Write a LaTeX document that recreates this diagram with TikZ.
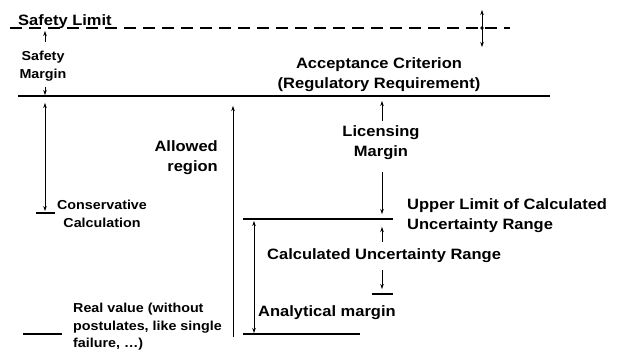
\documentclass[tikz,border=0pt]{standalone}
\usepackage{fontspec}
\setmainfont{Liberation Sans}[FakeStretch=1.1]
\usetikzlibrary{arrows.meta}
\tikzset{
  big/.style={font=\fontsize{15}{20}\selectfont\bfseries, inner sep=0pt, align=center},
  small/.style={font=\fontsize{13}{17.5}\selectfont\bfseries, inner sep=0pt, align=center},
  arr/.style={-{Stealth[length=5pt,width=3.5pt]}, line width=0.6pt},
  darr/.style={{Stealth[length=5pt,width=3.5pt]}-{Stealth[length=5pt,width=3.5pt]}, line width=0.6pt},
  level/.style={line width=1.5pt}
}
\begin{document}
\begin{tikzpicture}[x=1pt,y=-1pt]
  \useasboundingbox (0,0) rectangle (620,352);
  % levels
  \coordinate (slA) at (10,28);   \coordinate (slB) at (510,28);
  \coordinate (acA) at (18,96);   \coordinate (acB) at (550,96);
  \coordinate (ccA) at (36,213);  \coordinate (ccB) at (55,213);
  \coordinate (ulA) at (243,219); \coordinate (ulB) at (393,219);
  \coordinate (lrA) at (372,294); \coordinate (lrB) at (393,294);
  \coordinate (rbA) at (243,334); \coordinate (rbB) at (360,334);
  \coordinate (rvA) at (23,334);  \coordinate (rvB) at (62,334);
  \draw[level, dash pattern=on 12pt off 7pt] (slA) -- (slB);
  \draw[line width=1.8pt] (acA) -- (acB);
  \draw[level] (ccA) -- (ccB);
  \draw[line width=1.2pt] (ulA) -- (ulB);
  \draw[level] (lrA) -- (lrB);
  \draw[level] (rbA) -- (rbB);
  \draw[line width=1.2pt] (rvA) -- (rvB);
  % texts
  \node[big, anchor=base west] (safelim) at (18,26) {Safety Limit};
  \node[small] (safemarg) at (43,66) {Safety\\Margin};
  \node[big] (accept) at (379,75) {Acceptance Criterion\\(Regulatory Requirement)};
  \node[big] (licmarg) at (381,143) {Licensing\\Margin};
  \node[big, align=right, anchor=east] (allowed) at (218,158) {Allowed\\region};
  \node[small] (conscalc) at (102,214) {Conservative\\Calculation};
  \node[big, align=left, anchor=west] (upper) at (407,216) {Upper Limit of Calculated\\Uncertainty Range};
  \node[big, anchor=west] (uncrange) at (267,256) {Calculated Uncertainty Range};
  \node[big, anchor=west] (anamarg) at (258,313) {Analytical margin};
  \node[small, align=left, anchor=west] (realval) at (73,327) {Real value (without\\postulates, like single\\failure, \dots)};
  % arrows
  \draw[arr] (45,42) coordinate (smA) -- (45,31) coordinate (smB);
  \draw[arr] (45,87) coordinate (smC) -- (45,95) coordinate (smD);
  \draw[darr] (45,103) coordinate (cmA) -- (45,211) coordinate (cmB);
  \draw[arr] (233,337) coordinate (arA) -- (233,106) coordinate (arB);
  \draw[arr] (382,121) coordinate (lmA) -- (382,101) coordinate (lmB);
  \draw[arr] (382,172) coordinate (lmC) -- (382,214) coordinate (lmD);
  \draw[arr] (382,242) coordinate (urA) -- (382,227) coordinate (urB);
  \draw[arr] (382,270) coordinate (urC) -- (382,289) coordinate (urD);
  \draw[darr] (254,221) coordinate (amA) -- (254,333) coordinate (amB);
  \draw[darr] (482,10) coordinate (tkA) -- (482,47) coordinate (tkB);
  \fill (482,28) circle (1.8pt);
\end{tikzpicture}
\end{document}
